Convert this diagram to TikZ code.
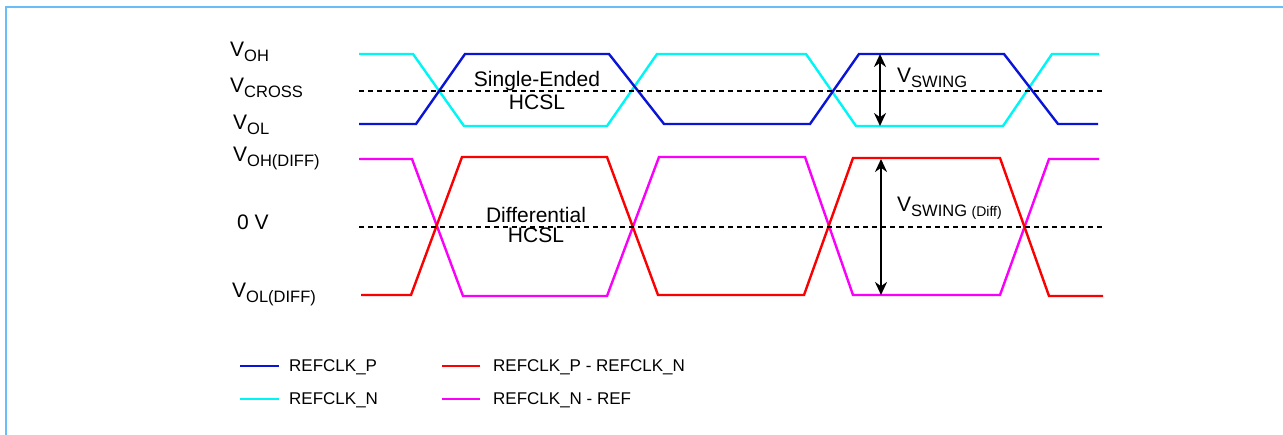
\documentclass[tikz,border=0pt]{standalone}
\usepackage{fontspec}
\setmainfont{Liberation Sans}
\usetikzlibrary{arrows.meta, positioning}

\definecolor{frameblue}{RGB}{105,190,250}
\definecolor{sigP}{RGB}{10,20,215}
\definecolor{sigN}{RGB}{0,245,245}
\definecolor{sigPN}{RGB}{250,0,0}
\definecolor{sigNR}{RGB}{250,0,250}

\newcommand{\vsub}[1]{\raisebox{-4.5pt}{\fontsize{16.5}{18}\selectfont #1}}

\begin{document}
\begin{tikzpicture}[x=1pt, y=-1pt, node distance=10pt, >={Stealth[length=13pt,width=12pt]},
    wave/.style={line width=2.4pt, line join=miter},
    level/.style={line width=2.4pt, dash pattern=on 4.5pt off 4.5pt},
    swing/.style={<->, line width=2.4pt},
    lbl/.style={inner sep=0pt, anchor=base west, font=\fontsize{21}{23}\selectfont},
    legtxt/.style={inner sep=0pt, text depth=0pt, font=\fontsize{17}{20}\selectfont}]

    \useasboundingbox (0,0) rectangle (1283,435);
    \draw [frameblue, line width=2.2pt] (6,435) -- (6,6.7) -- (1283,6.7);

    % Single-ended waveforms
    \draw [wave, sigN] (359,54) -- (413,54) -- (464,126) -- (607,126) -- (657,54) -- (806,54)
        -- (856,126) -- (1003,126) -- (1052,54) -- (1099,54);
    \draw [wave, sigP] (359,124) -- (416,124) -- (465,54) -- (609,54) -- (664,124) -- (807,124)
        -- (810,124) -- (859,54) -- (1004,54) -- (1058,124) -- (1098,124);

    % Differential waveforms
    \draw [wave, sigNR] (359,159) -- (412,159) -- (463,296) -- (607,296) -- (659,157) -- (805,157)
        -- (853,295) -- (1000,295) -- (1049,159) -- (1099,159);
    \draw [wave, sigPN] (361,295) -- (411,295) -- (462,157) -- (607,157) -- (658,295) -- (804,295)
        -- (853,158) -- (1000,158) -- (1049,296) -- (1103,296);

    % Reference levels (dotted)
    \coordinate (crossL) at (359,91);
    \coordinate (crossR) at (1104,91);
    \coordinate (zeroL) at (359,227);
    \coordinate (zeroR) at (1104,227);
    \draw [level] (crossL) -- (crossR);
    \draw [level] (zeroL) -- (zeroR);

    % Swing arrows
    \coordinate (seTop) at (880,54);
    \coordinate (seBot) at (880,126);
    \coordinate (dfTop) at (881,159);
    \coordinate (dfBot) at (881,295);
    \draw [swing] (seTop) -- (seBot);
    \draw [swing] (dfTop) -- (dfBot);

    % Level labels
    \node (voh) [lbl] at (230,57) {V\vsub{OH}};
    \node (vcross) [lbl] at (230,93) {V\vsub{CROSS}};
    \node (vol) [lbl] at (233,130) {V\vsub{OL}};
    \node (vohdiff) [lbl] at (233,162) {V\vsub{OH(DIFF)}};
    \node (zerov) [lbl] at (237,230) {0 V};
    \node (voldiff) [lbl] at (232,298) {V\vsub{OL(DIFF)}};
    \node (vswing) [lbl] at (897,83) {V\vsub{SWING}};
    \node (vswingdiff) [lbl] at (897,212) {V\vsub{SWING {\fontsize{14}{16}\selectfont(Diff)}}};

    \node (seText) [inner sep=0pt, anchor=base, align=center, font=\fontsize{21}{23}\selectfont] at (537,110) {Single-Ended\\HCSL};
    \node (dfText) [inner sep=0pt, anchor=base, align=center, font=\fontsize{21}{20}\selectfont] at (536,243) {Differential\\HCSL};

    % Legend
    \coordinate (legPa) at (240,366);
    \coordinate (legPb) at (279,366);
    \coordinate (legNa) at (240,399);
    \coordinate (legNb) at (279,399);
    \coordinate (legPNa) at (442,366);
    \coordinate (legPNb) at (480,366);
    \coordinate (legNRa) at (442,399);
    \coordinate (legNRb) at (480,399);
    \draw [wave, sigP] (legPa) -- (legPb);
    \draw [wave, sigN] (legNa) -- (legNb);
    \draw [wave, sigPN] (legPNa) -- (legPNb);
    \draw [wave, sigNR] (legNRa) -- (legNRb);
    \node (legP) [legtxt, right=10pt of legPb] {REFCLK\_P};
    \node (legN) [legtxt, right=10pt of legNb] {REFCLK\_N};
    \node (legPN) [legtxt, right=13pt of legPNb] {REFCLK\_P - REFCLK\_N};
    \node (legNR) [legtxt, right=13pt of legNRb] {REFCLK\_N - REF};

\end{tikzpicture}
\end{document}
